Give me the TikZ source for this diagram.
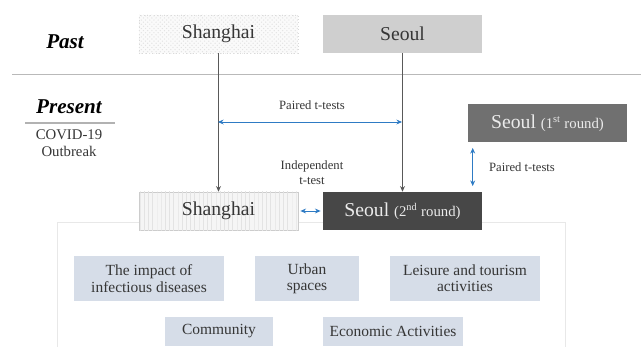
\documentclass[tikz,border=0pt]{standalone}
\usepackage{fontspec}
\setmainfont{LiberationSerif}[Extension=.ttf, UprightFont=*-Regular, BoldFont=*-Bold, ItalicFont=*-Italic, BoldItalicFont=*-BoldItalic]
\usetikzlibrary{arrows.meta,patterns}
\definecolor{inkgray}{HTML}{363636}
\definecolor{testblue}{HTML}{2E7BC4}
\definecolor{themefill}{HTML}{D6DDE8}
\begin{document}
\begin{tikzpicture}[
    x=0.025cm, y=-0.025cm,
    city/.style={rectangle, minimum width=3.975cm, minimum height=0.95cm, inner sep=0pt, font=\fontsize{14}{16}\selectfont, text=inkgray},
    theme/.style={rectangle, fill=themefill, inner sep=0pt, align=center, font=\fontsize{11}{11.6}\selectfont, text=inkgray},
    period/.style={font=\fontsize{15}{17}\selectfont\bfseries\itshape, text=black},
    note/.style={font=\fontsize{9}{10.5}\selectfont, text=inkgray, align=center},
    flow/.style={-{Stealth[length=4pt,width=3.5pt]}, gray!70!black, line width=0.5pt},
    biarrow/.style={{Stealth[length=4pt,width=3.5pt]}-{Stealth[length=4pt,width=3.5pt]}, testblue, line width=0.6pt}
]
\useasboundingbox (0,0) rectangle (641,347);

% Past
\node[period] (past) at (65,42) {Past};
\node[city, fill=gray!4, draw=gray!30, dotted, postaction={pattern=crosshatch dots, pattern color=gray!22}] (shaPast) at (218.5,34) {Shanghai};
\node[city, fill=gray!38] (seoPast) at (402.5,34) {Seoul};

% Separator
\draw[gray!55, line width=0.6pt] (12,74) -- (641,74);

% Present
\node[period] (present) at (69,107) {Present};
\draw[gray!60, line width=0.8pt] (25,123) -- (115,123);
\node[font=\fontsize{10.5}{12}\selectfont, text=inkgray, align=center] (covid) at (69,143.5) {COVID-19\\Outbreak};

% Findings frame
\draw[gray!18, line width=0.6pt] (57,347) -- (57,222) -- (565,222) -- (565,347);

% Present boxes
\node[city, fill=gray!8, draw=gray!40, line width=0.4pt, postaction={pattern=vertical lines, pattern color=gray!22}] (shaNow) at (218.5,211) {Shanghai};
\node[city, fill=black!72, text=white!92!black] (seoNow) at (402.5,211) {Seoul {\fontsize{10.5}{12}\selectfont(2\textsuperscript{nd} round)}};
\node[city, fill=black!56, text=white!92!black] (seoFirst) at (547.5,123) {Seoul {\fontsize{10.5}{12}\selectfont(1\textsuperscript{st} round)}};

% Arrows
\draw[flow] (shaPast.south) -- (shaNow.north);
\draw[flow] (seoPast.south) -- (seoNow.north);
\coordinate (pairL) at (218,122);
\coordinate (pairR) at (402,122);
\draw[biarrow] (pairL) -- (pairR);
\node[note] (pairLbl) at (312,105) {Paired t-tests};
\draw[biarrow, shorten <=1.5pt, shorten >=1.5pt] (shaNow.east) -- (seoNow.west);
\node[note] (indepLbl) at (312,173) {Independent\\t-test};
\draw[biarrow, shorten <=4pt, shorten >=4pt] ([xshift=0.125cm]seoFirst.south west) -- ([xshift=0.125cm]seoFirst.south west |- seoNow.north);
\node[note] (roundLbl) at (522,167) {Paired t-tests};

% Themes
\node[theme, minimum width=3.75cm, minimum height=1.125cm] (impact) at (149,278.5) {The impact of\\infectious diseases};
\node[theme, minimum width=2.6cm, minimum height=1.125cm] (urban) at (307,278.5) {Urban\\spaces};
\node[theme, minimum width=3.75cm, minimum height=1.125cm] (leisure) at (465,278.5) {Leisure and tourism\\activities};
\node[theme, minimum width=2.7cm, minimum height=0.725cm] (community) at (219,331.5) {Community};
\node[theme, minimum width=3.5cm, minimum height=0.725cm] (economy) at (393,331.5) {Economic Activities};
\end{tikzpicture}
\end{document}
